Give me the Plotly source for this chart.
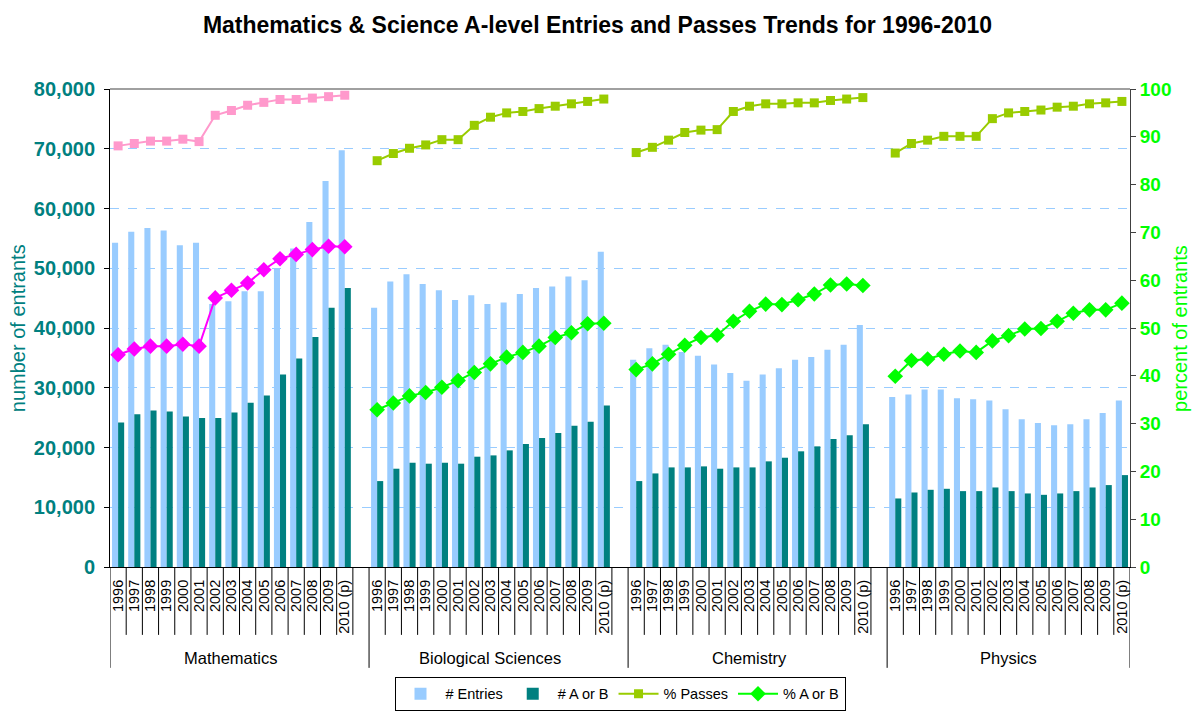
import plotly.graph_objects as go

subjects = ["Mathematics", "Biological Sciences", "Chemistry", "Physics"]
years = ["1996", "1997", "1998", "1999", "2000", "2001", "2002", "2003", "2004",
         "2005", "2006", "2007", "2008", "2009", "2010 (p)"]

# # Entries
math_entries = [54260, 56110, 56730, 56330, 53870, 54260, 44000, 44470, 46150, 46150,
                49900, 53310, 57730, 64610, 69760]
bio_entries = [43410, 47770, 49000, 47380, 46320, 44700, 45480, 44030, 44250, 45700,
               46710, 46930, 48610, 48000, 52750]
chem_entries = [34680, 36590, 37200, 35970, 35350, 33900, 32450, 31160, 32220, 33280,
                34680, 35130, 36360, 37200, 40500]
phys_entries = [28470, 28870, 29700, 29700, 28250, 28080, 27860, 26400, 24730, 24110,
                23720, 23890, 24730, 25790, 27860]

# # A or B
math_ab = [24170, 25570, 26180, 26010, 25170, 24950, 24950, 25840, 27470, 28700,
           32220, 34910, 38490, 43410, 46710]
bio_ab = [14380, 16450, 17450, 17290, 17450, 17290, 18460, 18680, 19520, 20590,
          21590, 22430, 23660, 24330, 27020]
chem_ab = [14380, 15660, 16670, 16670, 16840, 16450, 16670, 16670, 17680, 18290,
           19360, 20190, 21430, 22040, 23890]
phys_ab = [11470, 12470, 12920, 13090, 12700, 12700, 13310, 12700, 12310, 12080,
           12310, 12700, 13310, 13710, 15380]

# % Passes
math_pass = [88.1, 88.6, 89.1, 89.1, 89.5, 89.0, 94.5, 95.5, 96.6, 97.2,
             97.8, 97.8, 98.1, 98.4, 98.7]
bio_pass = [85.0, 86.5, 87.6, 88.3, 89.4, 89.4, 92.4, 94.1, 95.0, 95.3,
            95.9, 96.4, 96.9, 97.4, 97.9]
chem_pass = [86.7, 87.8, 89.3, 90.9, 91.4, 91.5, 95.3, 96.4, 96.9, 96.9,
             97.1, 97.1, 97.6, 97.9, 98.2]
phys_pass = [86.6, 88.6, 89.3, 90.1, 90.1, 90.1, 93.8, 95.0, 95.3, 95.6,
             96.2, 96.4, 96.9, 97.1, 97.4]

# % A or B
math_pab = [44.4, 45.6, 46.2, 46.2, 46.6, 46.2, 56.3, 57.9, 59.4, 62.2,
            64.5, 65.4, 66.4, 67.1, 67.0]
bio_pab = [32.9, 34.3, 35.8, 36.5, 37.6, 39.0, 40.7, 42.5, 43.9, 44.9,
           46.2, 48.0, 49.0, 50.9, 51.0]
chem_pab = [41.3, 42.5, 44.5, 46.4, 48.0, 48.5, 51.4, 53.5, 55.0, 54.9,
            55.9, 57.1, 59.0, 59.2, 58.9]
phys_pab = [39.9, 43.2, 43.5, 44.5, 45.2, 44.9, 47.3, 48.4, 49.8, 49.9,
            51.4, 53.1, 53.8, 53.8, 55.2]

entries = [math_entries, bio_entries, chem_entries, phys_entries]
ab = [math_ab, bio_ab, chem_ab, phys_ab]
passes = [math_pass, bio_pass, chem_pass, phys_pass]
pab = [math_pab, bio_pab, chem_pab, phys_pab]

SLOT = len(years) + 1  # one blank category after each subject
n_cat = SLOT * len(subjects) - 1


def pos(g):
    return [g * SLOT + i for i in range(len(years))]


all_x = [x for g in range(len(subjects)) for x in pos(g)]
all_entries = [v for s in entries for v in s]
all_ab = [v for s in ab for v in s]


def joined(series_list, groups):
    xs, ys = [], []
    for g in groups:
        if xs:
            xs.append(None)
            ys.append(None)
        xs += pos(g)
        ys += series_list[g]
    return xs, ys


FONT = "Liberation Sans, Arial, sans-serif"
fig = go.Figure()

fig.add_trace(go.Bar(x=all_x, y=all_entries, name="# Entries", marker_color="#99CCFF",
                     marker_line_width=0))
fig.add_trace(go.Bar(x=all_x, y=all_ab, name="# A or B", marker_color="#008080",
                     marker_line_width=0))

xo, yo = joined(passes, [1, 2, 3])
fig.add_trace(go.Scatter(x=xo, y=yo, yaxis="y2", name="% Passes", mode="lines+markers",
                         line=dict(color="#99CC00", width=2),
                         marker=dict(symbol="square", size=9, color="#99CC00"),
                         connectgaps=False))
fig.add_trace(go.Scatter(x=pos(0), y=math_pass, yaxis="y2", name="% Passes (Maths)",
                         mode="lines+markers", showlegend=False,
                         line=dict(color="#FF99CC", width=2),
                         marker=dict(symbol="square", size=9, color="#FF99CC")))
xo, yo = joined(pab, [1, 2, 3])
fig.add_trace(go.Scatter(x=xo, y=yo, yaxis="y2", name="% A or B", mode="lines+markers",
                         line=dict(color="#00FF00", width=2),
                         marker=dict(symbol="diamond", size=12, color="#00FF00"),
                         connectgaps=False))
fig.add_trace(go.Scatter(x=pos(0), y=math_pab, yaxis="y2", name="% A or B (Maths)",
                         mode="lines+markers", showlegend=False,
                         line=dict(color="#FF00FF", width=2),
                         marker=dict(symbol="diamond", size=12, color="#FF00FF")))

shapes = []
short_y = -0.142
long_y = -0.211
for g in range(len(subjects)):
    start = g * SLOT - 0.5
    shapes.append(dict(type="line", xref="x", yref="paper", x0=start, x1=start,
                       y0=0, y1=long_y, line=dict(color="black", width=1)))
    for i in range(1, len(years)):
        xb = g * SLOT + i - 0.5
        shapes.append(dict(type="line", xref="x", yref="paper", x0=xb, x1=xb,
                           y0=0, y1=short_y, line=dict(color="black", width=1)))
    if g < len(subjects) - 1:
        xb = g * SLOT + len(years) - 0.5
        shapes.append(dict(type="line", xref="x", yref="paper", x0=xb, x1=xb,
                           y0=0, y1=short_y, line=dict(color="black", width=1)))
end = n_cat - 0.5
shapes.append(dict(type="line", xref="x", yref="paper", x0=end, x1=end,
                   y0=0, y1=long_y, line=dict(color="black", width=1)))
# top border of plot area
shapes.append(dict(type="line", xref="paper", yref="paper", x0=0, x1=1, y0=1, y1=1,
                   line=dict(color="#808080", width=1.5)))

annotations = []
for g, s in enumerate(subjects):
    annotations.append(dict(text=s, xref="x", yref="paper", x=g * SLOT + (len(years) - 1) / 2,
                            y=-0.19, showarrow=False, xanchor="center", yanchor="middle",
                            font=dict(family=FONT, size=16.5, color="black")))
annotations.append(dict(text="number of entrants", xref="paper", yref="paper",
                        x=-0.09, y=0.5, textangle=-90, showarrow=False,
                        xanchor="center", yanchor="middle",
                        font=dict(family=FONT, size=20, color="#008080")))
annotations.append(dict(text="percent of entrants", xref="paper", yref="paper",
                        x=1.049, y=0.5, textangle=-90, showarrow=False,
                        xanchor="center", yanchor="middle",
                        font=dict(family=FONT, size=20, color="#00FF00")))

fig.update_layout(
    width=1195, height=713,
    margin=dict(l=110, r=65, t=89, b=146),
    paper_bgcolor="white", plot_bgcolor="white",
    title=dict(text="<b>Mathematics & Science A-level Entries and Passes Trends for 1996-2010</b>",
               x=0.5, xanchor="center", y=0.965, yanchor="middle",
               font=dict(family=FONT, size=23, color="black")),
    barmode="group", bargap=0.25, bargroupgap=0,
    xaxis=dict(range=[-0.5, n_cat - 0.5], tickmode="array",
               tickvals=all_x, ticktext=[y for _ in subjects for y in years],
               tickangle=-90, ticks="", showgrid=False, zeroline=False,
               showline=True, linecolor="black", linewidth=1, ticklabelstandoff=6,
               automargin=False,
               tickfont=dict(family=FONT, size=14.5, color="black")),
    yaxis=dict(range=[0, 80000], dtick=10000, tickformat=",", ticks="outside",
               ticklen=5, tickcolor="black", showline=True, linecolor="black",
               linewidth=1, showgrid=True, gridcolor="#99CCFF", griddash="dash",
               gridwidth=1, zeroline=False, ticklabelstandoff=5, automargin=False,
               tickfont=dict(family=FONT, size=20, color="#008080", weight="bold")),
    yaxis2=dict(range=[0, 100], dtick=10, overlaying="y", side="right",
                ticks="outside", ticklen=5, tickcolor="#404040", showline=True,
                linecolor="#404040", linewidth=1, showgrid=False, zeroline=False,
                automargin=False,
                tickfont=dict(family=FONT, size=19, color="#00FF00", weight="bold")),
    legend=dict(orientation="h", x=0.5, xanchor="center", xref="paper",
                y=0.003, yanchor="bottom", yref="container",
                bordercolor="black", borderwidth=1, bgcolor="white",
                font=dict(family=FONT, size=14.5, color="black"),
                itemwidth=40, tracegroupgap=0),
    shapes=shapes, annotations=annotations,
    showlegend=True,
)

fig.write_html("out.html", config={"displayModeBar": False},
               post_script="document.body.style.margin='0';")
